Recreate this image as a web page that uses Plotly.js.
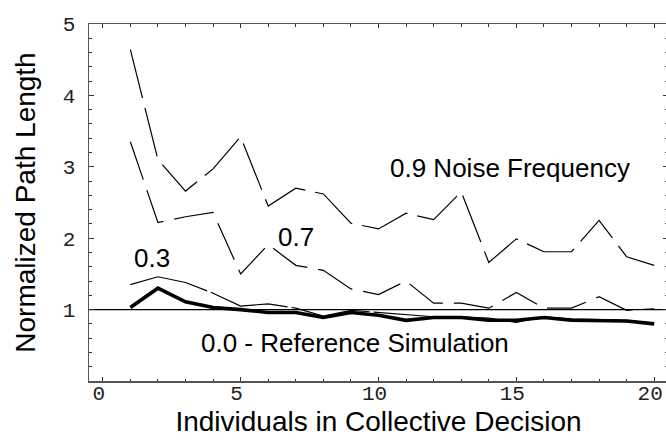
<!DOCTYPE html>
<html><head><meta charset="utf-8">
<script src="https://cdn.plot.ly/plotly-3.0.1.min.js"></script>
<style>html,body{margin:0;padding:0;overflow:hidden;background:#fff}</style>
</head><body><div id="chart" style="width:668px;height:443px"></div>
<script>
const individuals = [1,2,3,4,5,6,7,8,9,10,11,12,13,14,15,16,17,18,19,20];
const noise00 = [1.03,1.30,1.11,1.03,1.00,0.96,0.96,0.89,0.96,0.92,0.85,0.89,0.89,0.85,0.85,0.89,0.85,0.85,0.84,0.80];
const noise03 = [1.35,1.46,1.38,1.23,1.05,1.08,1.02,0.91,0.99,0.96,0.92,0.90,0.90,0.88,0.82,0.90,0.87,0.86,0.85,0.81];
const noise07 = [3.35,2.22,2.30,2.36,1.50,1.91,1.62,1.55,1.29,1.21,1.40,1.09,1.09,1.02,1.24,1.02,1.02,1.18,0.99,1.01];
const noise09 = [4.64,3.10,2.66,2.97,3.42,2.45,2.70,2.62,2.21,2.13,2.35,2.26,2.65,1.66,1.99,1.81,1.81,2.25,1.74,1.62];
const xTickVals = [0,5,10,15,20];
const yTickVals = [1,2,3,4,5];
const referenceLevel = 1;
const seriesLabels = ["0.9 Noise Frequency","0.7","0.3","0.0 - Reference Simulation"];

const thin = (y, dash) => ({x: individuals, y: y, type:'scatter', mode:'lines',
  line:{color:'#000', width:1.2, dash:dash}, hoverinfo:'skip'});
const traces = [
  thin(noise09, '50px,10px'),
  thin(noise07, '40px,11px'),
  thin(noise03, '80px,4px'),
  {x: individuals, y: noise00, type:'scatter', mode:'lines', line:{color:'#000', width:3.6}}
];
const annFont = {family:'"Liberation Sans", Arial, sans-serif', size:26, color:'#000'};
const layout = {
  width:668, height:443,
  margin:{l:89, r:0, t:24, b:62},
  paper_bgcolor:'#fff', plot_bgcolor:'#fff',
  showlegend:false,
  xaxis:{range:[-0.5,20.5], tickvals:xTickVals, ticktext:xTickVals.map(String),
    showgrid:false, zeroline:false, showline:true, linecolor:'#555', linewidth:1.5,
    mirror:'allticks', ticks:'inside', ticklen:4, tickcolor:'#333', tickwidth:1,
    ticklabelshift:-4, ticklabelstandoff:-8,
    minor:{tickmode:'linear', tick0:0, dtick:1, ticks:'inside', ticklen:2.5, tickcolor:'#333', showgrid:false},
    tickfont:{family:'"Liberation Mono", "Courier New", monospace', size:21, color:'#222'},
    title:{text:'Individuals in Collective Decision', standoff:6,
      font:{family:'"Liberation Sans", Arial, sans-serif', size:28, color:'#000'}}},
  yaxis:{range:[0,5], tickvals:yTickVals, ticktext:yTickVals.map(String),
    showgrid:false, zeroline:false, showline:true, linecolor:'#555', linewidth:1.5,
    mirror:'allticks', ticks:'inside', ticklen:5, tickcolor:'#333', tickwidth:1,
    ticklabelstandoff:8,
    minor:{tickmode:'linear', tick0:0, dtick:0.2, ticks:'inside', ticklen:3, tickcolor:'#333', showgrid:false},
    tickfont:{family:'"Liberation Mono", "Courier New", monospace', size:21, color:'#222'},
    title:{text:'Normalized Path Length', standoff:19,
      font:{family:'"Liberation Sans", Arial, sans-serif', size:28, color:'#000'}}},
  shapes:[{type:'line', xref:'paper', x0:0, x1:1, yref:'y', y0:referenceLevel, y1:referenceLevel,
    line:{color:'#000', width:1.3}, layer:'below'}],
  annotations:[
    {text:seriesLabels[0], x:14.76, y:2.99, xref:'x', yref:'y', showarrow:false, font:annFont},
    {text:seriesLabels[1], x:7.00, y:2.02, xref:'x', yref:'y', showarrow:false, font:annFont},
    {text:seriesLabels[2], x:1.80, y:1.72, xref:'x', yref:'y', showarrow:false, font:annFont},
    {text:seriesLabels[3], x:9.16, y:0.53, xref:'x', yref:'y', showarrow:false, font:annFont}
  ]
};
Plotly.newPlot('chart', traces, layout, {staticPlot:true, displayModeBar:false});
</script></body></html>
